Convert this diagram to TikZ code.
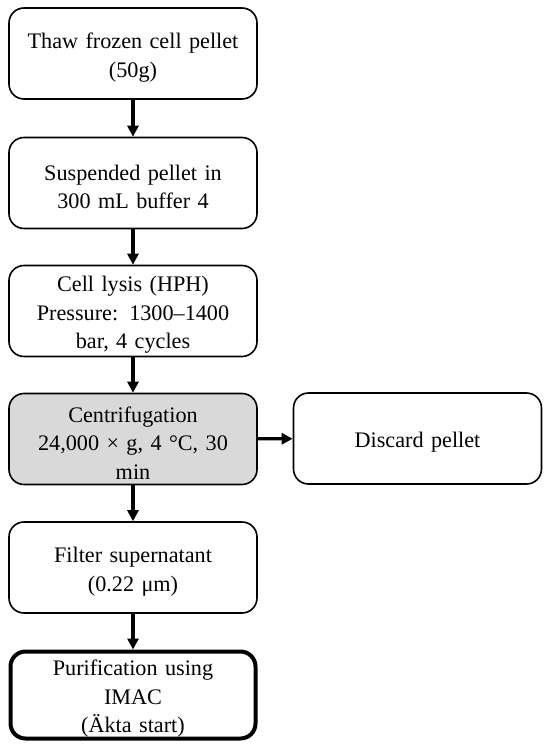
\documentclass[tikz,border=0pt]{standalone}
\usepackage{fontspec}
\setmainfont{Liberation Serif}
\usepackage{tikz}
\usetikzlibrary{arrows,arrows.meta,shapes,positioning}

\begin{document}
\begin{tikzpicture}[x=1pt,y=-1pt]
                \tikzstyle{every node}+=[font=\fontsize{22.2}{28.5}\selectfont]
                \tikzstyle{stepbox}=[draw=black, line width=1.6pt, rounded corners=15pt, fill=white,
                        minimum width=248pt, minimum height=91pt, text width=236pt, align=center, inner sep=0pt,
                        execute at begin node={\rule{0pt}{23.5pt}}]
                \tikzstyle{flow}=[line width=3.2pt, -{Triangle[length=11pt,width=11pt]}]
                \useasboundingbox (0,0) rectangle (550,751);
                \fill [white] (0,0) rectangle (550,751);
                \node [stepbox] (thaw) at (133,53.5) {Thaw frozen cell pellet\\(50g)};
                \node [stepbox] (suspend) at (133,183) {Suspended pellet in\\300 mL buffer 4};
                \node [stepbox] (lysis) at (133,311) {Cell lysis (HPH)\\Pressure: 1300–1400\\bar, 4 cycles};
                \node [stepbox, fill=gray!30] (centri) at (133,439) {Centrifugation\\24,000 × g, 4 °C, 30\\min};
                \node [stepbox] (discard) at (417.5,438.5) {Discard pellet};
                \node [stepbox] (filter) at (133,567.5) {Filter supernatant\\(0.22 μm)};
                \node [stepbox, line width=4pt, minimum width=245pt, minimum height=87pt] (imac) at (133,695) {Purification using\\IMAC\\(Äkta start)};
                \draw [flow] (thaw) -- (suspend);
                \draw [flow] (suspend) -- (lysis);
                \draw [flow] (lysis) -- (centri);
                \draw [flow] (centri) -- (discard);
                \draw [flow] (centri) -- (filter);
                \draw [flow] (filter) -- (imac);
            \end{tikzpicture}
\end{document}
